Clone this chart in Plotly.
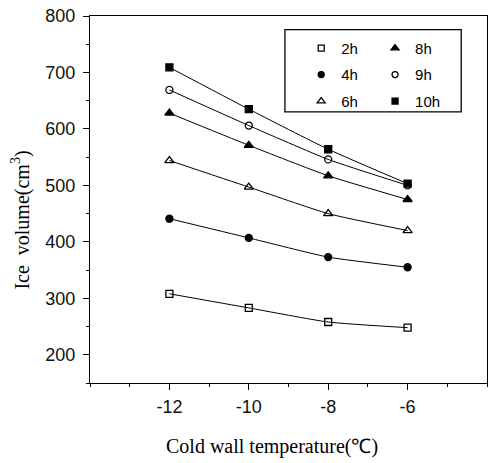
import plotly.graph_objects as go

temps = [-12, -10, -8, -6]
series_names = ["2h", "4h", "6h", "8h", "9h", "10h"]
v2h = [308, 283, 258, 248]
v4h = [441, 407, 373, 355]
v6h = [544, 497, 450, 420]
v8h = [628, 571, 517, 475]
v9h = [669, 606, 546, 500]
v10h = [709, 635, 564, 503]
values = [v2h, v4h, v6h, v8h, v9h, v10h]
symbols = ["square-open", "circle", "triangle-up-open", "triangle-up", "circle-open", "square"]
legends = ["legend", "legend", "legend", "legend2", "legend2", "legend2"]
sizes = [7, 7, 8, 8, 7, 7]

y_ticks = [200, 300, 400, 500, 600, 700, 800]
x_ticks = [-12, -10, -8, -6]
x_ticktext = ["-12", "-10", "-8", "-6"]

fig = go.Figure()
for name, vals, sym, lg, sz in zip(series_names, values, symbols, legends, sizes):
    fig.add_trace(go.Scatter(
        x=temps, y=vals, name=name, mode="lines+markers", showlegend=False,
        line=dict(color="black", width=1, shape="spline", smoothing=0.5),
        marker=dict(symbol=sym, size=sz, color="black", line=dict(color="black", width=1.3)),
    ))
    # legend entry showing the marker only
    fig.add_trace(go.Scatter(
        x=[None], y=[None], name=name, mode="markers", showlegend=True,
        marker=dict(symbol=sym, size=sz - 1, color="black", line=dict(color="black", width=1.3)),
        legend=lg, legendgroup=name,
    ))

tickfont = dict(family="Liberation Sans, Arial, sans-serif", size=18, color="#111")
legfont = dict(family="Liberation Sans, Arial, sans-serif", size=15, color="black")
fig.update_layout(
    width=494, height=463,
    margin=dict(l=90, r=7, t=16, b=80),
    paper_bgcolor="white", plot_bgcolor="white",
    showlegend=True,
    xaxis=dict(range=[-14, -4], tickvals=x_ticks, ticktext=x_ticktext, ticks="outside", ticklen=6,
               tickwidth=1.2, tickcolor="black", showline=True, linecolor="black",
               linewidth=1.3, mirror=True, showgrid=False, zeroline=False,
               tickfont=tickfont, ticklabelstandoff=1,
               minor=dict(dtick=1, tick0=-13, ticks="outside", ticklen=3,
                          tickcolor="black", showgrid=False)),
    yaxis=dict(range=[150, 800], tickvals=y_ticks, ticks="outside", ticklen=6,
               tickwidth=1.2, tickcolor="black", showline=True, linecolor="black",
               linewidth=1.3, mirror=True, showgrid=False, zeroline=False,
               tickfont=tickfont, ticklabelstandoff=4,
               minor=dict(dtick=50, tick0=150, ticks="outside", ticklen=3,
                          tickcolor="black", showgrid=False)),
    legend=dict(x=0.532, y=0.957, xanchor="left", yanchor="top",
                bgcolor="rgba(0,0,0,0)", borderwidth=0, tracegroupgap=4, font=legfont),
    legend2=dict(x=0.718, y=0.957, xanchor="left", yanchor="top",
                 bgcolor="rgba(0,0,0,0)", borderwidth=0, tracegroupgap=4, font=legfont),
    shapes=[dict(type="rect", xref="paper", yref="paper", x0=0.491, x1=0.935,
                 y0=0.739, y1=0.963, line=dict(color="black", width=1.3))],
    annotations=[
        dict(text="Ice\u00a0\u00a0volume(cm<sup>3</sup>)", xref="paper", yref="paper",
             x=-0.174, y=0.445, xanchor="center", yanchor="middle", textangle=-90, showarrow=False,
             font=dict(family="Liberation Serif, Times New Roman, serif", size=20, color="black")),
        dict(text="Cold wall temperature(\u2103)", xref="paper", yref="paper",
             x=0.458, y=-0.172, xanchor="center", yanchor="middle", showarrow=False,
             font=dict(family="Liberation Serif, Times New Roman, serif", size=20, color="black")),
    ],
)

fig.write_html("out.html")
